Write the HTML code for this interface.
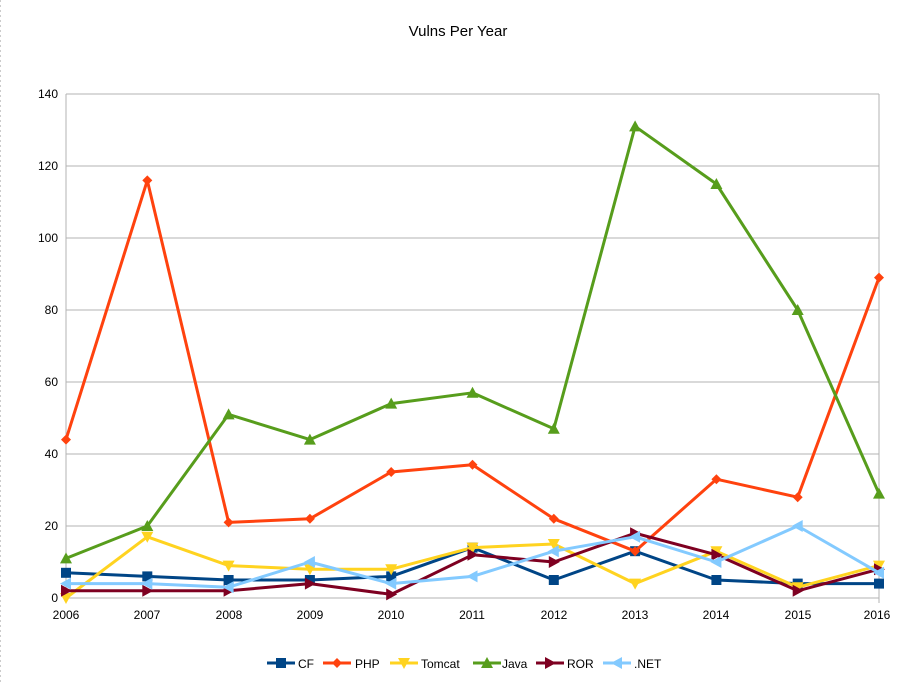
<!DOCTYPE html>
<html><head><meta charset="utf-8"><style>
html,body{margin:0;padding:0;background:#fff;}
svg{display:block;font-family:"Liberation Sans",sans-serif;}
</style></head><body>
<svg id="s" width="916" height="683" viewBox="0 0 916 683" xmlns="http://www.w3.org/2000/svg">
<line x1="0.5" y1="0" x2="0.5" y2="683" stroke="#ccc" stroke-dasharray="2,3"/>
<text x="458" y="36" font-size="15" text-anchor="middle" fill="#000">Vulns Per Year</text>
<g stroke="#b3b3b3" stroke-width="1">
<line x1="66" y1="94" x2="879" y2="94"/>
<line x1="66" y1="166" x2="879" y2="166"/>
<line x1="66" y1="238" x2="879" y2="238"/>
<line x1="66" y1="310" x2="879" y2="310"/>
<line x1="66" y1="382" x2="879" y2="382"/>
<line x1="66" y1="454" x2="879" y2="454"/>
<line x1="66" y1="526" x2="879" y2="526"/>
<line x1="66" y1="598" x2="879" y2="598"/>
<line x1="66" y1="94" x2="66" y2="603"/>
<line x1="879" y1="94" x2="879" y2="603"/>
</g>
<g font-size="12" fill="#000" text-anchor="end">
<text x="58" y="98">140</text><text x="58" y="170">120</text><text x="58" y="242">100</text>
<text x="58" y="314">80</text><text x="58" y="386">60</text><text x="58" y="458">40</text>
<text x="58" y="530">20</text><text x="58" y="602">0</text>
</g>
<g font-size="12" fill="#000" text-anchor="middle">
<text x="66" y="619">2006</text><text x="147" y="619">2007</text><text x="229" y="619">2008</text>
<text x="310" y="619">2009</text><text x="391" y="619">2010</text><text x="472" y="619">2011</text>
<text x="554" y="619">2012</text><text x="635" y="619">2013</text><text x="716" y="619">2014</text>
<text x="798" y="619">2015</text><text x="877" y="619">2016</text>
</g>
<g id="series"></g>
<g font-size="12" fill="#000">
<text x="298" y="668">CF</text><text x="355" y="668">PHP</text><text x="421" y="668">Tomcat</text>
<text x="502" y="668">Java</text><text x="567" y="668">ROR</text><text x="634" y="668">.NET</text>
</g>
<g id="legend"></g>
</svg>
<script>
var D=[
["#004586","sq",[7,6,5,5,6,14,5,13,5,4,4],267],
["#ff420e","di",[44,116,21,22,35,37,22,13,33,28,89],323],
["#ffd320","dn",[0,17,9,8,8,14,15,4,13,3,9],390],
["#579d1c","up",[11,20,51,44,54,57,47,131,115,80,29],473],
["#7e0021","rt",[2,2,2,4,1,12,10,18,12,2,8],536],
["#83caff","lf",[4,4,3,10,4,6,13,17,10,20,7],603]];
var NS="http://www.w3.org/2000/svg";
function el(t,a,p){var e=document.createElementNS(NS,t);for(var k in a)e.setAttribute(k,a[k]);p.appendChild(e);return e;}
function mk(type,x,y,c,p){var pts;
 if(type=="sq"){el("rect",{x:x-5,y:y-5,width:10,height:10,fill:c},p);return;}
 if(type=="di")pts=[[x,y-5],[x+5,y],[x,y+5],[x-5,y]];
 if(type=="dn")pts=[[x-6,y-5],[x+6,y-5],[x,y+6]];
 if(type=="up")pts=[[x-6,y+5],[x+6,y+5],[x,y-6]];
 if(type=="rt")pts=[[x-5,y-6],[x-5,y+6],[x+6,y]];
 if(type=="lf")pts=[[x+5,y-6],[x+5,y+6],[x-6,y]];
 el("polygon",{points:pts.map(function(q){return q.join(",")}).join(" "),fill:c},p);}
var g=document.getElementById("series"),L=document.getElementById("legend");
D.forEach(function(d){var pts=d[2].map(function(v,i){return [66+i*81.3,598-v*3.6];});
 el("polyline",{points:pts.map(function(q){return q.join(",")}).join(" "),fill:"none",stroke:d[0],"stroke-width":3,"stroke-linejoin":"round"},g);
 pts.forEach(function(q){mk(d[1],q[0],q[1],d[0],g);});
 el("line",{x1:d[3],y1:663,x2:d[3]+28,y2:663,stroke:d[0],"stroke-width":3},L);
 mk(d[1],d[3]+14,663,d[0],L);});
</script>
</body></html>
